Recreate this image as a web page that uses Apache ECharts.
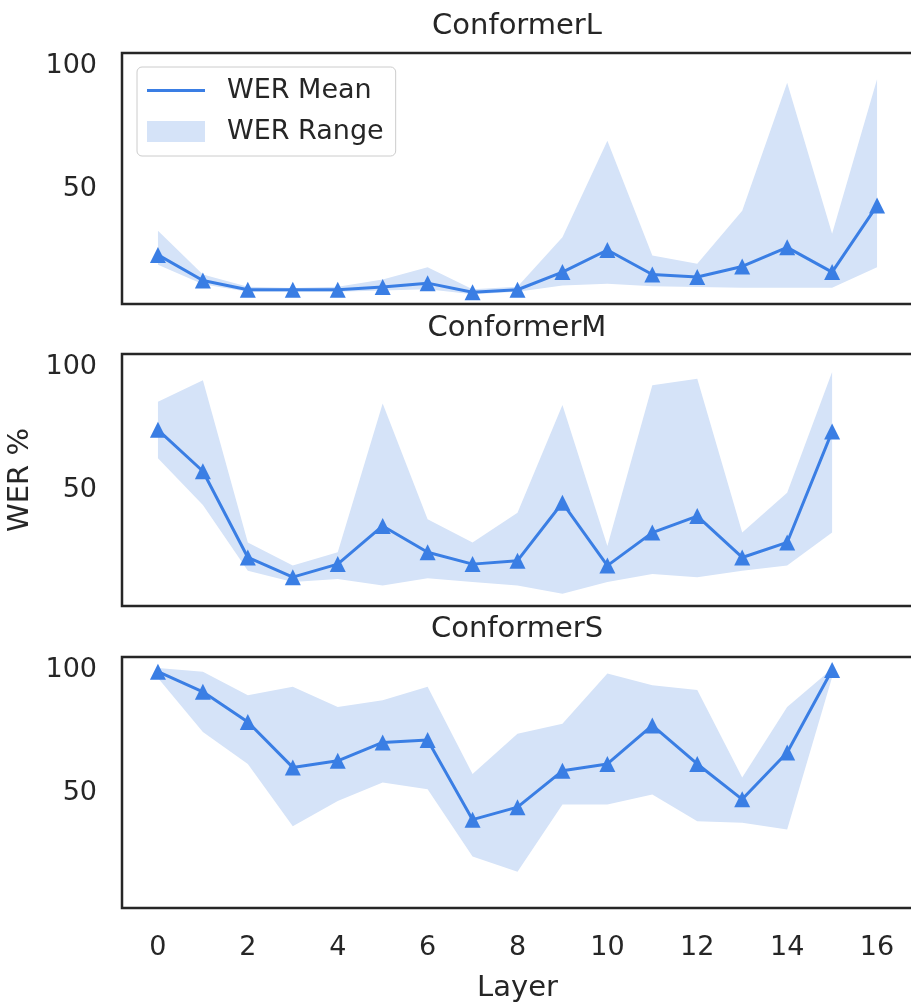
<!DOCTYPE html>
<html>
<head>
<meta charset="utf-8">
<script src="https://cdn.jsdelivr.net/npm/echarts@6/dist/echarts.min.js"></script>
<style>html,body{margin:0;padding:0;background:#fff}#c{width:911px;height:1002px}</style>
</head>
<body>
<div id="c"></div>
<script>
// ---- data ----
const titles = ['ConformerL', 'ConformerM', 'ConformerS'];
const layersL = [0,1,2,3,4,5,6,7,8,9,10,11,12,13,14,15,16];
const layersMS = [0,1,2,3,4,5,6,7,8,9,10,11,12,13,14,15];

const meanL = [23, 12.6, 8.8, 8.8, 8.8, 9.9, 11.5, 7.8, 8.8, 16, 25, 15, 14, 18.3, 26.1, 16, 43.1];
const lowL  = [19, 11, 8, 8, 8, 8.5, 9, 7, 8, 10.5, 11.3, 10.2, 9.9, 9.6, 9.6, 9.6, 18];
const highL = [32.9, 15, 10, 9.5, 10, 13, 18, 9, 10, 30.2, 69.5, 22.8, 19.4, 41, 93.2, 31.6, 94.6];

const meanM = [74.5, 57.7, 22.7, 14.7, 20, 35.5, 24.8, 20, 21.4, 44.9, 19.4, 32.8, 39.5, 22.7, 28.8, 73.8];
const lowM  = [63, 44, 17.3, 12.7, 14, 11.3, 14.3, 12.7, 11.3, 8, 12.7, 16, 14.7, 17.3, 19.4, 32.8];
const highM = [85.9, 94.6, 28.8, 19.4, 24.8, 85.2, 38.2, 28.8, 40.9, 84.6, 27.4, 92.6, 95.3, 32.8, 49, 98];

const meanS = [99.3, 91.1, 78.8, 60.3, 63, 70.5, 71.5, 39, 44.1, 58.9, 61.7, 77.4, 61.7, 47.3, 66.4, 100];
const lowS  = [96.7, 74.7, 61.7, 36.3, 46.6, 54.1, 51.4, 24, 17.8, 45.2, 45.2, 49.3, 38.4, 37.7, 35, 97];
const highS = [100.8, 99.3, 89.7, 93.2, 84.9, 87.7, 93.2, 57.6, 74, 78.1, 98.6, 93.8, 91.8, 56.2, 84.9, 100.5];

const xTicks = [0, 2, 4, 6, 8, 10, 12, 14, 16];
const yTicks = [50, 100];
const xLabel = 'Layer';
const yLabel = 'WER %';
const meanName = 'WER Mean';
const rangeName = 'WER Range';

// ---- styles ----
const FONT = 'DejaVu Sans';
const TXT = '#262626';
const LINE = '#3a7ee4';
const FILL = '#d5e3f8';

const panels = [
  {x: layersL, mean: meanL, low: lowL, high: highL},
  {x: layersMS, mean: meanM, low: lowM, high: highM},
  {x: layersMS, mean: meanS, low: lowS, high: highS}
];
const gridTops = [53, 354, 657];
const gridH = [251, 252, 251];
const titleTops = [12, 314, 615];

const grid = [], xAxis = [], yAxis = [], series = [], title = [];
panels.forEach((p, i) => {
  grid.push({left: 122, top: gridTops[i], width: 791, height: gridH[i], show: true,
    outerBoundsMode: 'none', containLabel: false,
    borderColor: '#262626', borderWidth: 2.5, backgroundColor: '#fff'});
  title.push({text: titles[i], left: 517, top: titleTops[i], textAlign: 'center', padding: 0,
    textStyle: {fontFamily: FONT, fontSize: 29, fontWeight: 'normal', color: TXT}});
  xAxis.push({type: 'value', gridIndex: i, min: -0.8, max: 16.8,
    axisLine: {show: false}, axisTick: {show: false}, splitLine: {show: false},
    axisLabel: {show: i === 2, customValues: xTicks, fontFamily: FONT, fontSize: 27, color: TXT, margin: 26},
    name: i === 2 ? xLabel : '', nameLocation: 'middle', nameGap: 66,
    nameTextStyle: {fontFamily: FONT, fontSize: 29, color: TXT}});
  yAxis.push({type: 'value', gridIndex: i, min: 3, max: 105.3,
    axisLine: {show: false}, axisTick: {show: false}, splitLine: {show: false},
    axisLabel: {customValues: yTicks, fontFamily: FONT, fontSize: 27, color: TXT, margin: 25},
    name: i === 1 ? yLabel : '', nameLocation: 'middle', nameGap: 82, nameRotate: 90,
    nameTextStyle: {fontFamily: FONT, fontSize: 29, color: TXT}});
  const bandData = p.x.map((x, k) => [x, p.low[k], p.high[k]]);
  series.push({name: rangeName, type: 'custom', xAxisIndex: i, yAxisIndex: i,
    data: bandData, silent: true, z: 1,
    itemStyle: {color: FILL},
    encode: {x: 0, y: [1, 2]},
    renderItem: function (params, api) {
      if (params.dataIndex !== 0) return null;
      const upper = bandData.map(d => api.coord([d[0], d[2]]));
      const lower = bandData.map(d => api.coord([d[0], d[1]])).reverse();
      return {type: 'polygon', shape: {points: upper.concat(lower)},
        style: {fill: FILL, stroke: null}};
    }});
  series.push({name: meanName, type: 'line', xAxisIndex: i, yAxisIndex: i,
    data: p.x.map((x, k) => [x, p.mean[k]]), symbol: 'triangle', symbolSize: 16,
    itemStyle: {color: LINE}, lineStyle: {color: LINE, width: 3}, z: 3});
});

const legend = [
  {data: [meanName], left: 137, top: 67, orient: 'vertical', icon: 'rect', itemWidth: 58, itemHeight: 3,
    padding: [10, 24, 52, 10], backgroundColor: '#fff', borderColor: '#cccccc', borderWidth: 1, borderRadius: 5,
    textStyle: {fontFamily: FONT, fontSize: 27, color: TXT, padding: [0, 0, 0, 17]}, selectedMode: false, z: 4},
  {data: [{name: rangeName, itemStyle: {color: FILL}}], left: 147, top: 118, orient: 'vertical', icon: 'rect', itemWidth: 58, itemHeight: 21,
    padding: 0, textStyle: {fontFamily: FONT, fontSize: 27, color: TXT, padding: [0, 0, 0, 17]}, selectedMode: false, z: 5}
];

const chart = echarts.init(document.getElementById('c'), null, {renderer: 'canvas'});
chart.setOption({animation: false, backgroundColor: '#fff', title, grid, xAxis, yAxis, series, legend});
</script>
</body>
</html>
